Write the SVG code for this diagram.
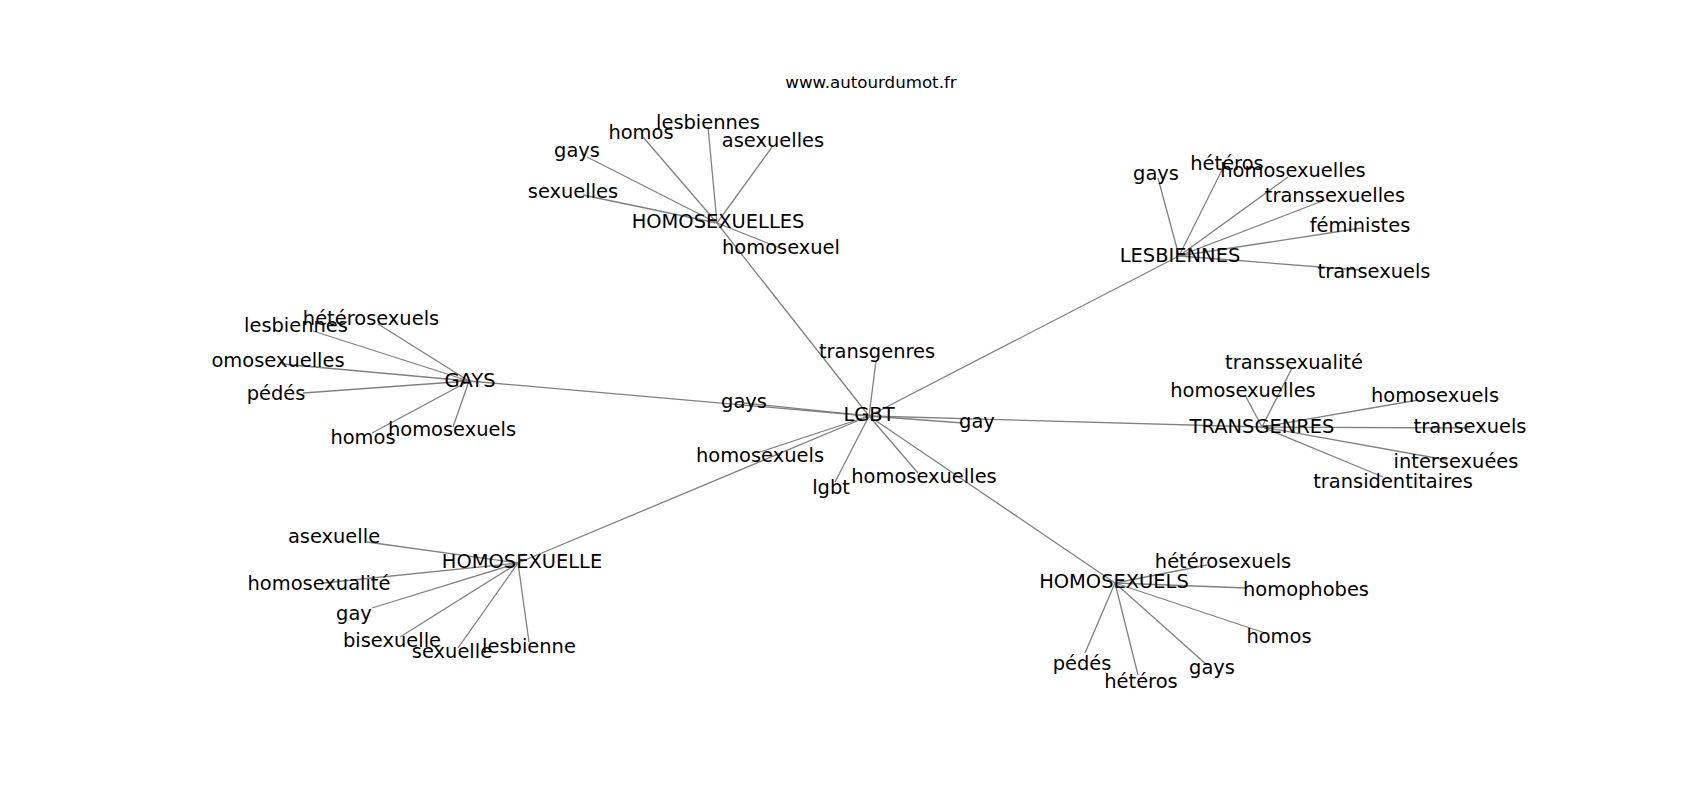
<svg xmlns="http://www.w3.org/2000/svg" width="1700" height="800" viewBox="0 0 1700 800">
<style>
text{font-family:"DejaVu Sans","Liberation Sans",sans-serif;fill:#000;text-anchor:middle}
.n text{font-size:19.44px}
.t{font-size:16.67px}
#edges line{stroke:#808080;stroke-width:1.3;fill:none}
</style>
<rect width="1700" height="800" fill="#fff"/>
<text class="t" x="871" y="88">www.autourdumot.fr</text>
<g id="edges">
<line x1="869" y1="416" x2="717" y2="223"/>
<line x1="869" y1="416" x2="1179" y2="256"/>
<line x1="869" y1="416" x2="469" y2="381"/>
<line x1="869" y1="416" x2="1262" y2="427"/>
<line x1="869" y1="416" x2="518" y2="563"/>
<line x1="869" y1="416" x2="1115" y2="583"/>
<line x1="869" y1="416" x2="876" y2="361"/>
<line x1="869" y1="416" x2="744" y2="403"/>
<line x1="869" y1="416" x2="963" y2="423"/>
<line x1="869" y1="416" x2="757" y2="453"/>
<line x1="869" y1="416" x2="835" y2="482"/>
<line x1="869" y1="416" x2="918" y2="473"/>
<line x1="717" y1="223" x2="708" y2="127"/>
<line x1="717" y1="223" x2="643" y2="137"/>
<line x1="717" y1="223" x2="772" y2="147"/>
<line x1="717" y1="223" x2="587" y2="157"/>
<line x1="717" y1="223" x2="583" y2="195"/>
<line x1="717" y1="223" x2="780" y2="248"/>
<line x1="1179" y1="256" x2="1158" y2="178"/>
<line x1="1179" y1="256" x2="1222" y2="170"/>
<line x1="1179" y1="256" x2="1288" y2="177"/>
<line x1="1179" y1="256" x2="1325" y2="200"/>
<line x1="1179" y1="256" x2="1362" y2="228"/>
<line x1="1179" y1="256" x2="1360" y2="270"/>
<line x1="469" y1="381" x2="378" y2="324"/>
<line x1="469" y1="381" x2="313" y2="331"/>
<line x1="469" y1="381" x2="282" y2="364"/>
<line x1="469" y1="381" x2="303" y2="393"/>
<line x1="469" y1="381" x2="372" y2="433"/>
<line x1="469" y1="381" x2="453" y2="427"/>
<line x1="1262" y1="427" x2="1292" y2="368"/>
<line x1="1262" y1="427" x2="1245" y2="395"/>
<line x1="1262" y1="427" x2="1418" y2="400"/>
<line x1="1262" y1="427" x2="1470" y2="428"/>
<line x1="1262" y1="427" x2="1447" y2="460"/>
<line x1="1262" y1="427" x2="1383" y2="477"/>
<line x1="518" y1="563" x2="367" y2="542"/>
<line x1="518" y1="563" x2="323" y2="583"/>
<line x1="518" y1="563" x2="372" y2="608"/>
<line x1="518" y1="563" x2="400" y2="637"/>
<line x1="518" y1="563" x2="458" y2="648"/>
<line x1="518" y1="563" x2="529" y2="642"/>
<line x1="1115" y1="583" x2="1207" y2="565"/>
<line x1="1115" y1="583" x2="1247" y2="588"/>
<line x1="1115" y1="583" x2="1265" y2="633"/>
<line x1="1115" y1="583" x2="1085" y2="653"/>
<line x1="1115" y1="583" x2="1138" y2="675"/>
<line x1="1115" y1="583" x2="1207" y2="665"/>
</g>
<g class="n">
<g id="n-lgbt-hub"><text x="869" y="421">LGBT</text></g>
<g id="n-homosexuelles-hub"><text x="718" y="228">HOMOSEXUELLES</text></g>
<g id="n-lesbiennes-hub"><text x="1180" y="262">LESBIENNES</text></g>
<g id="n-gays-hub"><text x="470" y="387">GAYS</text></g>
<g id="n-transgenres-hub"><text x="1262" y="433">TRANSGENRES</text></g>
<g id="n-homosexuelle-hub"><text x="522" y="568">HOMOSEXUELLE</text></g>
<g id="n-homosexuels-hub"><text x="1114" y="588">HOMOSEXUELS</text></g>

<g id="n-l-transgenres"><text x="877" y="358">transgenres</text></g>
<g id="n-l-gays"><text x="744" y="408">gays</text></g>
<g id="n-l-gay"><text x="977" y="428">gay</text></g>
<g id="n-l-homosexuels"><text x="760" y="462">homosexuels</text></g>
<g id="n-l-lgbt"><text x="831" y="494">lgbt</text></g>
<g id="n-l-homosexuelles"><text x="924" y="483">homosexuelles</text></g>

<g id="n-hs-lesbiennes"><text x="708" y="129">lesbiennes</text></g>
<g id="n-hs-homos"><text x="641" y="139">homos</text></g>
<g id="n-hs-asexuelles"><text x="773" y="147">asexuelles</text></g>
<g id="n-hs-gays"><text x="577" y="157">gays</text></g>
<g id="n-hs-sexuelles"><text x="573" y="198">sexuelles</text></g>
<g id="n-hs-homosexuel"><text x="781" y="254">homosexuel</text></g>

<g id="n-le-gays"><text x="1156" y="180">gays</text></g>
<g id="n-le-heteros"><text x="1227" y="170">hétéros</text></g>
<g id="n-le-homosexuelles"><text x="1293" y="177">homosexuelles</text></g>
<g id="n-le-transsexuelles"><text x="1335" y="202">transsexuelles</text></g>
<g id="n-le-feministes"><text x="1360" y="232">féministes</text></g>
<g id="n-le-transexuels"><text x="1374" y="278">transexuels</text></g>

<g id="n-g-heterosexuels"><text x="371" y="325">hétérosexuels</text></g>
<g id="n-g-lesbiennes"><text x="296" y="332">lesbiennes</text></g>
<g id="n-g-omosexuelles"><text x="278" y="367">omosexuelles</text></g>
<g id="n-g-pedes"><text x="276" y="400">pédés</text></g>
<g id="n-g-homos"><text x="363" y="444">homos</text></g>
<g id="n-g-homosexuels"><text x="452" y="436">homosexuels</text></g>

<g id="n-t-transsexualite"><text x="1294" y="369">transsexualité</text></g>
<g id="n-t-homosexuelles"><text x="1243" y="397">homosexuelles</text></g>
<g id="n-t-homosexuels"><text x="1435" y="402">homosexuels</text></g>
<g id="n-t-transexuels"><text x="1470" y="433">transexuels</text></g>
<g id="n-t-intersexuees"><text x="1456" y="468">intersexuées</text></g>
<g id="n-t-transidentitaires"><text x="1393" y="488">transidentitaires</text></g>

<g id="n-he-asexuelle"><text x="334" y="543">asexuelle</text></g>
<g id="n-he-homosexualite"><text x="319" y="590">homosexualité</text></g>
<g id="n-he-gay"><text x="354" y="620">gay</text></g>
<g id="n-he-bisexuelle"><text x="392" y="647">bisexuelle</text></g>
<g id="n-he-sexuelle"><text x="452" y="658">sexuelle</text></g>
<g id="n-he-lesbienne"><text x="529" y="653">lesbienne</text></g>

<g id="n-hx-heterosexuels"><text x="1223" y="568">hétérosexuels</text></g>
<g id="n-hx-homophobes"><text x="1306" y="596">homophobes</text></g>
<g id="n-hx-homos"><text x="1279" y="643">homos</text></g>
<g id="n-hx-pedes"><text x="1082" y="670">pédés</text></g>
<g id="n-hx-heteros"><text x="1141" y="688">hétéros</text></g>
<g id="n-hx-gays"><text x="1212" y="674">gays</text></g>
</g>
</svg>
